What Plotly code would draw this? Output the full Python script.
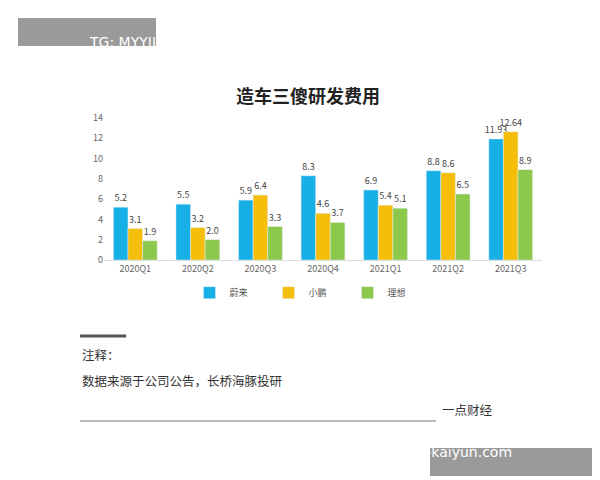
import plotly.graph_objects as go

quarters = ["2020Q1", "2020Q2", "2020Q3", "2020Q4", "2021Q1", "2021Q2", "2021Q3"]
nio = [5.2, 5.5, 5.9, 8.3, 6.9, 8.8, 11.93]
xpeng = [3.1, 3.2, 6.4, 4.6, 5.4, 8.6, 12.64]
li = [1.9, 2.0, 3.3, 3.7, 5.1, 6.5, 8.9]
y_ticks = [0, 2, 4, 6, 8, 10, 12, 14]


def fmt(v):
    return f"{v:.2f}" if round(v, 1) != v else f"{v:.1f}"


fig = go.Figure()
for name, vals, color in [("蔚来", nio, "#17b0e6"), ("小鹏", xpeng, "#f5be0a"), ("理想", li, "#8cc84b")]:
    fig.add_trace(go.Bar(
        x=quarters, y=vals, name=name, marker_color=color,
        text=[fmt(v) for v in vals], textposition="outside", cliponaxis=False,
        constraintext="none", textfont=dict(size=9, color="#444"),
    ))

fig.update_layout(
    width=600, height=480, margin=dict(l=0, r=0, t=0, b=0, pad=0, autoexpand=False),
    paper_bgcolor="white", plot_bgcolor="white",
    font=dict(family="Noto Sans CJK SC", color="#555"),
    barmode="group", bargap=0.3, bargroupgap=0,
    xaxis=dict(domain=[0.16, 0.89], tickfont=dict(size=9, color="#666"),
               showline=True, linecolor="#ddd", ticks=""),
    yaxis=dict(domain=[0.475, 0.771], range=[0, 14], tickvals=y_ticks,
               tickfont=dict(size=9, color="#666"), showgrid=False, zeroline=False),
    legend=dict(orientation="h", x=0.5, xanchor="center", y=0.407, yanchor="middle",
                font=dict(size=9, color="#555"), entrywidth=34, itemwidth=30),
    showlegend=True,
)

fig.add_annotation(text="<b>造车三傻研发费用</b>", x=0.5, y=1 - 72 / 480, xref="paper", yref="paper",
                   showarrow=False, font=dict(size=18, color="#222"))
# top-left tag box
fig.add_shape(type="rect", xref="paper", yref="paper", x0=10 / 600, x1=148 / 600, layer="below",
              y0=1 - 38 / 480, y1=1 - 10 / 480, fillcolor="#9a9a9a", line_width=0)
fig.add_annotation(text="TG: MYYJJPP", x=79 / 600, y=1 - 24 / 480, xref="paper", yref="paper",
                   showarrow=False, font=dict(size=14, color="white", family="DejaVu Sans"))
# notes
fig.add_shape(type="line", xref="paper", yref="paper", x0=72 / 600, x1=118 / 600,
              y0=1 - 328 / 480, y1=1 - 328 / 480, line=dict(color="#555", width=3))
fig.add_annotation(text="注释：", x=72 / 600, y=1 - 358 / 480, xref="paper", yref="paper",
                   xanchor="left", showarrow=False, font=dict(size=12.5, color="#333"))
fig.add_annotation(text="数据来源于公司公告，长桥海豚投研", x=72 / 600, y=1 - 384 / 480, xref="paper",
                   yref="paper", xanchor="left", showarrow=False, font=dict(size=12.5, color="#333"))
fig.add_shape(type="line", xref="paper", yref="paper", x0=72 / 600, x1=428 / 600,
              y0=1 - 413 / 480, y1=1 - 413 / 480, line=dict(color="#777", width=1))
fig.add_annotation(text="一点财经", x=487 / 600, y=1 - 413 / 480, xref="paper", yref="paper",
                   showarrow=False, font=dict(size=12.5, color="#333"))
# bottom-right tag box
fig.add_shape(type="rect", xref="paper", yref="paper", x0=422 / 600, x1=590 / 600, layer="below",
              y0=1 - 468 / 480, y1=1 - 440 / 480, fillcolor="#9a9a9a", line_width=0)
fig.add_annotation(text="www.b5-kaiyun.com", x=506 / 600, y=1 - 454 / 480, xref="paper", yref="paper",
                   showarrow=False, font=dict(size=14, color="white", family="DejaVu Sans"))

fig.write_html("out.html")
